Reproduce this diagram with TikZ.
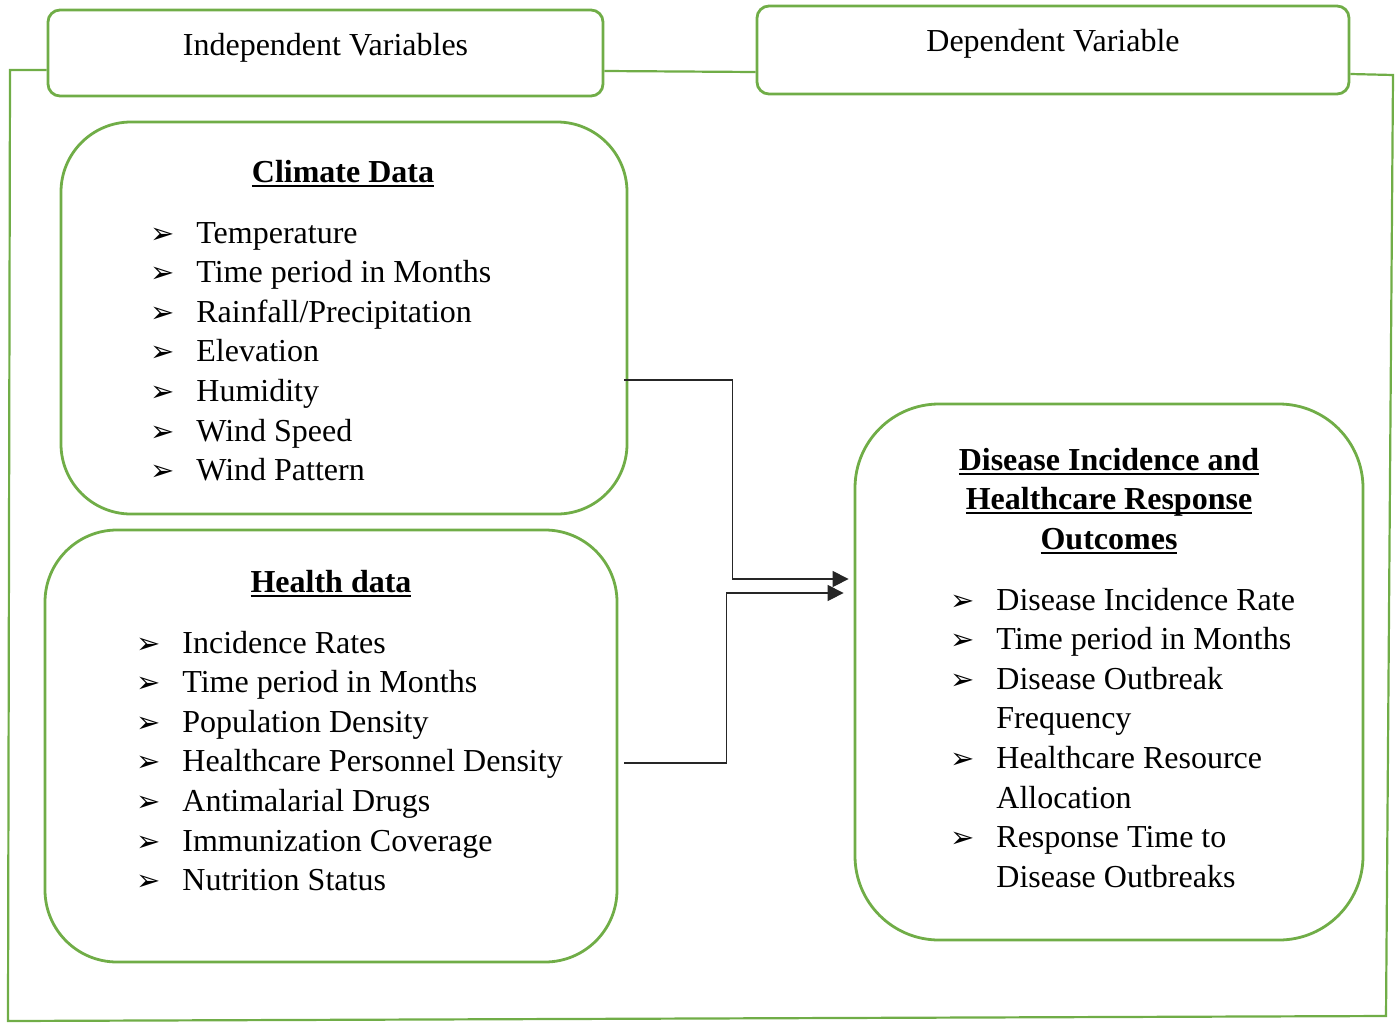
\documentclass[tikz,border=0pt]{standalone}
\usepackage{fontspec}
\setmainfont{Liberation Serif}
\newfontfamily\dvfont{DejaVu Sans}
\usetikzlibrary{arrows.meta,calc}
\definecolor{gr}{HTML}{70AD47}
\newcommand{\bul}{\makebox[23pt][l]{\raisebox{0pt}{\dvfont\fontsize{14.5}{14.5}\selectfont ➢}}}
\newcommand{\nobul}{\makebox[23pt][l]{}}
\newsavebox{\ttlbox}
\newcommand{\ttl}[1]{\sbox{\ttlbox}{\textbf{#1}}\rlap{\rule[-2.6pt]{\wd\ttlbox}{1.3pt}}\usebox{\ttlbox}}
\begin{document}
\begin{tikzpicture}[x=0.5pt,y=-0.5pt,
  every node/.style={font=\fontsize{16}{19.8}\selectfont},
  hdr/.style={draw=gr, line width=1.4pt, rounded corners=6pt, inner sep=0pt},
  bigbox/.style={draw=gr, line width=1.4pt, rounded corners=#1, inner sep=0pt},
  frame/.style={draw=gr, line width=1.1pt},
  conn/.style={draw=black!85, line width=0.6pt, -{Triangle[length=8pt,width=8pt]}},
  list/.style={inner sep=0pt, anchor=base west},
  ttlnode/.style={inner sep=0pt, anchor=base, align=center}]
\useasboundingbox (0,0) rectangle (1396,1023);
% header boxes
\node[hdr, minimum width=277.5pt, minimum height=43pt] (iv) at (325.5,53) {};
\node[hdr, minimum width=296pt, minimum height=44pt] (dv) at (1053,50) {};
\node[inner sep=0pt, anchor=base] (ivt) at (325.5,55) {Independent Variables};
\node[inner sep=0pt, anchor=base] (dvt) at (1053,51) {Dependent Variable};
% main boxes
\node[bigbox=35pt, minimum width=283pt, minimum height=196pt] (climate) at (344,318) {};
\node[bigbox=36pt, minimum width=286pt, minimum height=216pt] (health) at (331,746) {};
\node[bigbox=42pt, minimum width=254pt, minimum height=268pt] (outcome) at (1109,672) {};
% outer frame
\coordinate (fa) at (10,70);
\coordinate (fb) at (8,1021);
\coordinate (fc) at (1386,1016);
\coordinate (fd) at (1393,75);
\draw[frame] ($(iv.west)+(0,17)$) -- (fa) -- (fb) -- (fc) -- (fd) -- ($(dv.east)+(0,24)$);
\draw[frame] ($(iv.east)+(0,18)$) -- ($(dv.west)+(0,22)$);
% titles
\node[ttlnode] (ct) at (343,182) {\ttl{Climate Data}};
\node[ttlnode] (ht) at (331,592) {\ttl{Health data}};
\node[ttlnode] (ot1) at (1109,470) {\ttl{Disease Incidence and}};
\node[ttlnode] (ot2) at (1109,509) {\ttl{Healthcare Response}};
\node[ttlnode] (ot3) at (1109,549) {\ttl{Outcomes}};
% lists
\node[list] (cl) at (150,243) {\begin{tabular}[t]{@{}l@{}}
\bul Temperature\\
\bul Time period in Months\\
\bul Rainfall/Precipitation\\
\bul Elevation\\
\bul Humidity\\
\bul Wind Speed\\
\bul Wind Pattern
\end{tabular}};
\node[list] (hl) at (136,653) {\begin{tabular}[t]{@{}l@{}}
\bul Incidence Rates\\
\bul Time period in Months\\
\bul Population Density\\
\bul Healthcare Personnel Density\\
\bul Antimalarial Drugs\\
\bul Immunization Coverage\\
\bul Nutrition Status
\end{tabular}};
\node[list] (ol) at (950,610) {\begin{tabular}[t]{@{}l@{}}
\bul Disease Incidence Rate\\
\bul Time period in Months\\
\bul Disease Outbreak\\
\nobul Frequency\\
\bul Healthcare Resource\\
\nobul Allocation\\
\bul Response Time to\\
\nobul Disease Outbreaks
\end{tabular}};
% connectors
\draw[conn] ($(climate.east)+(-4,62)$) -- ++(108,0) |- ($(outcome.west)+(-5,-93)$);
\draw[conn] ($(health.east)+(6,17)$) -- ++(102,0) |- ($(outcome.west)+(-10,-79)$);
\end{tikzpicture}
\end{document}
